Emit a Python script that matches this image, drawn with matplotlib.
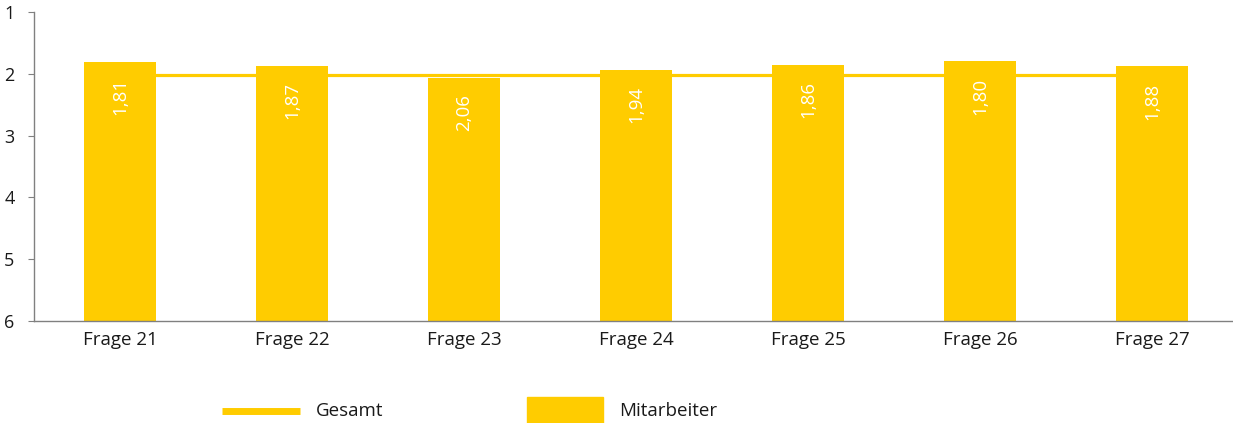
import matplotlib
matplotlib.use("Agg")
import matplotlib.pyplot as plt
from matplotlib.lines import Line2D
from matplotlib.patches import Rectangle

categories = ["Frage 21", "Frage 22", "Frage 23", "Frage 24", "Frage 25", "Frage 26", "Frage 27"]
mitarbeiter = [1.81, 1.87, 2.06, 1.94, 1.86, 1.80, 1.88]
gesamt = [2.02, 2.02, 2.02, 2.02, 2.02, 2.02, 2.02]
yticks = [1, 2, 3, 4, 5, 6]

YELLOW = "#FFCC00"
plt.rcParams['font.family'] = ['Open Sans', 'DejaVu Sans']

fig = plt.figure(figsize=(12.33, 4.23), dpi=100)
ax = fig.add_axes([34/1233, 1-321/423, (1238-34)/1233, (321-12)/423])

x = list(range(len(categories)))
ax.plot(x, gesamt, color=YELLOW, lw=2.3, zorder=1, solid_capstyle='butt')
bottom = 6
heights = [v - bottom for v in mitarbeiter]
ax.bar(x, heights, bottom=bottom, width=0.424, color=YELLOW, zorder=2)

for xi, v in zip(x, mitarbeiter):
    ax.text(xi, v + 0.56, f"{v:.2f}".replace(".", ","), rotation=90, color="white",
            ha="center", va="center", fontsize=13.5, zorder=3)

ax.set_ylim(6, 1)
ax.set_xlim(-0.5, 6.5)
ax.set_yticks(yticks)
ax.set_yticklabels([str(t) for t in yticks], fontsize=13, color="#1a1a1a")
ax.set_xticks(x)
ax.set_xticklabels(categories, fontsize=13.5, color="#1a1a1a")
ax.tick_params(axis='x', length=0, pad=7)
ax.tick_params(axis='y', length=4, color="#808080", pad=10)
for s in ["top", "right"]:
    ax.spines[s].set_visible(False)
for s in ["left", "bottom"]:
    ax.spines[s].set_color("#808080")
    ax.spines[s].set_linewidth(1)

# Legend drawn manually
fig.add_artist(Line2D([222/1233, 300/1233], [1-411/423, 1-411/423], color=YELLOW, lw=5,
                      solid_capstyle='butt', transform=fig.transFigure))
fig.text(316/1233, 1-411/423, "Gesamt", fontsize=13.5, va="center", ha="left", color="#1a1a1a")
fig.add_artist(Rectangle((527/1233, 0), (603-527)/1233, 26/423, color=YELLOW,
                         transform=fig.transFigure))
fig.text(619/1233, 1-411/423, "Mitarbeiter", fontsize=13.5, va="center", ha="left", color="#1a1a1a")

fig.savefig("out.png", dpi=100)
